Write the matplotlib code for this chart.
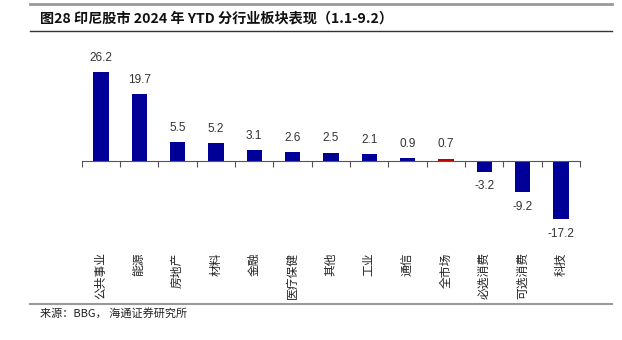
import matplotlib
matplotlib.use("Agg")
import matplotlib.pyplot as plt
from matplotlib.lines import Line2D
import numpy as np

# data
sectors = ["公共事业", "能源", "房地产", "材料", "金融", "医疗保健", "其他",
           "工业", "通信", "全市场", "必选消费", "可选消费", "科技"]
ytd = [26.2, 19.7, 5.5, 5.2, 3.1, 2.6, 2.5, 2.1, 0.9, 0.7, -3.2, -9.2, -17.2]
highlight = "全市场"

title = "图28 印尼股市 2024 年 YTD 分行业板块表现（1.1-9.2）"
source = "来源：BBG， 海通证券研究所"

plt.rcParams['font.family'] = ['Noto Sans CJK SC', 'DejaVu Sans']

W, H = 622, 340
fig = plt.figure(figsize=(W / 100, H / 100), dpi=100)


def fy(px):
    # pixel row (from top) -> figure fraction
    return 1 - px / H


# axes placed so that zero sits on pixel row 161
ymin, ymax = -25, 30
px_per_unit = 89 / 26.2
ax_top = 161 - ymax * px_per_unit
ax_bot = 161 - ymin * px_per_unit
ax = fig.add_axes([81.7 / W, fy(ax_bot), 498.3 / W, (ax_bot - ax_top) / H])

x = np.arange(len(sectors))
colors = ['#c00000' if s == highlight else '#000099' for s in sectors]
ax.bar(x, ytd, width=0.4, color=colors, edgecolor='none')

ax.set_xlim(-0.5, len(sectors) - 0.5)
ax.set_ylim(ymin, ymax)

# value labels
for xi, v in zip(x, ytd):
    if v >= 0:
        ax.annotate(f"{v:.1f}", (xi, v), xytext=(0, 6), textcoords='offset points',
                    ha='center', va='bottom', fontsize=8.5, color='#333333',
                    family='Liberation Sans')
    else:
        ax.annotate(f"{v:.1f}", (xi, v), xytext=(0, -6), textcoords='offset points',
                    ha='center', va='top', fontsize=8.5, color='#333333',
                    family='Liberation Sans')

# category labels, rotated, hanging below the plot
for xi, s in zip(x, sectors):
    ax.text(xi, -0.035, s, transform=ax.get_xaxis_transform(), rotation=90,
            ha='center', va='top', fontsize=8.5, color='#222222')

# axis: only a zero line with ticks at category boundaries
for side in ['top', 'right', 'left']:
    ax.spines[side].set_visible(False)
ax.spines['bottom'].set_position(('data', 0))
ax.spines['bottom'].set_color('#555555')
ax.set_yticks([])
ax.set_xticks(np.arange(-0.5, len(sectors), 1))
ax.set_xticklabels([])
ax.tick_params(axis='x', direction='out', length=4, color='#555555')

# frame lines and texts
fig.add_artist(Line2D([30 / W, 612 / W], [fy(4), fy(4)], color='#999999', lw=2))
fig.add_artist(Line2D([30 / W, 612 / W], [fy(31), fy(31)], color='#333333', lw=1))
fig.add_artist(Line2D([30 / W, 612 / W], [fy(304), fy(304)], color='#999999', lw=1.5))

fig.text(40 / W, fy(18), title, ha='left', va='center', fontsize=10.2,
         fontweight='bold', color='#111111')
fig.text(40 / W, fy(313), source, ha='left', va='center', fontsize=8,
         color='#222222')

fig.savefig('out.png', dpi=100)
